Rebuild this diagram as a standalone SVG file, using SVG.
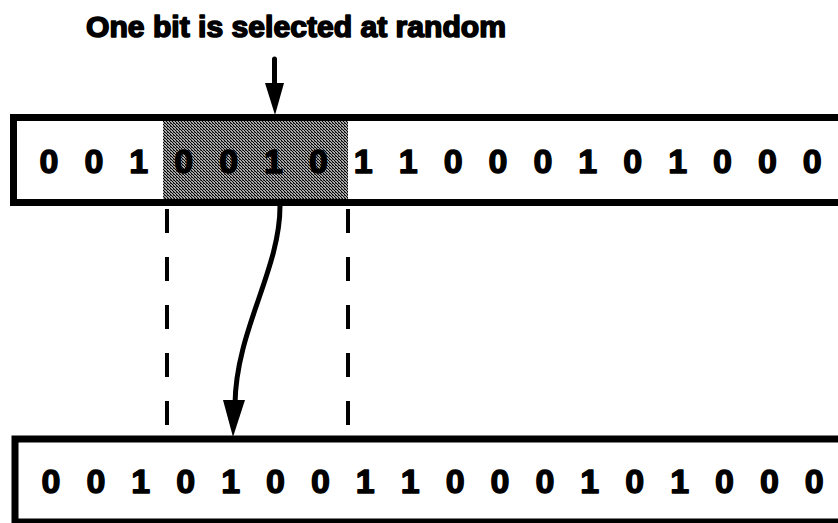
<svg xmlns="http://www.w3.org/2000/svg" width="838" height="523" viewBox="0 0 838 523">
  <defs>
    <!-- halftone screen used for the selected segment -->
    <pattern id="halftone" width="3" height="3" patternUnits="userSpaceOnUse">
      <rect width="3" height="3" fill="#a8a8a8"/>
      <rect x="0" y="0" width="1" height="1" fill="#000"/>
      <rect x="1" y="1" width="1" height="1" fill="#000"/>
      <rect x="2" y="2" width="1" height="1" fill="#000"/>
      <rect x="2" y="0" width="1" height="1" fill="#444"/>
    </pattern>
  </defs>
  <style>
    .title { font-family: "Liberation Sans", Arial, sans-serif; font-weight: bold; font-size: 30px; fill: #000; stroke: #000; stroke-width: 1.6; stroke-linejoin: round; }
    .bit { font-family: "Liberation Sans", Arial, sans-serif; font-weight: bold; font-size: 34px; fill: #000; stroke: #000; stroke-width: 1.4; stroke-linejoin: round; text-anchor: middle; }
    .box { fill: #fff; stroke: #000; stroke-width: 7; }
    .dash { stroke: #000; stroke-width: 4; stroke-dasharray: 24 24; fill: none; }
    .flow { stroke: #000; stroke-width: 5; fill: none; stroke-linecap: round; }
    .head { fill: #000; stroke: none; }
  </style>

  <rect width="838" height="523" fill="#fff"/>

  <text class="title" x="86" y="37" textLength="420" lengthAdjust="spacingAndGlyphs">One bit is selected at random</text>

  <!-- original chromosome -->
  <g id="parent">
    <rect class="box" x="13.5" y="117.5" width="900" height="85"/>
    <rect x="163" y="121" width="185" height="78" fill="url(#halftone)"/>
    <g class="bits">
      <text class="bit" x="49" y="173">0</text>
      <text class="bit" x="93.9" y="173">0</text>
      <text class="bit" x="138.8" y="173">1</text>
      <text class="bit" x="183.7" y="173">0</text>
      <text class="bit" x="228.6" y="173">0</text>
      <text class="bit" x="273.5" y="173">1</text>
      <text class="bit" x="318.4" y="173">0</text>
      <text class="bit" x="363.3" y="173">1</text>
      <text class="bit" x="408.2" y="173">1</text>
      <text class="bit" x="453.1" y="173">0</text>
      <text class="bit" x="498" y="173">0</text>
      <text class="bit" x="542.9" y="173">0</text>
      <text class="bit" x="587.8" y="173">1</text>
      <text class="bit" x="632.7" y="173">0</text>
      <text class="bit" x="677.6" y="173">1</text>
      <text class="bit" x="722.5" y="173">0</text>
      <text class="bit" x="767.4" y="173">0</text>
      <text class="bit" x="812.3" y="173">0</text>
    </g>
  </g>

  <!-- mutated chromosome -->
  <g id="child">
    <rect class="box" x="15" y="439" width="900" height="83"/>
    <g class="bits">
      <text class="bit" x="51" y="493">0</text>
      <text class="bit" x="95.9" y="493">0</text>
      <text class="bit" x="140.8" y="493">1</text>
      <text class="bit" x="185.7" y="493">0</text>
      <text class="bit" x="230.6" y="493">1</text>
      <text class="bit" x="275.5" y="493">0</text>
      <text class="bit" x="320.4" y="493">0</text>
      <text class="bit" x="365.3" y="493">1</text>
      <text class="bit" x="410.2" y="493">1</text>
      <text class="bit" x="455.1" y="493">0</text>
      <text class="bit" x="500" y="493">0</text>
      <text class="bit" x="544.9" y="493">0</text>
      <text class="bit" x="589.8" y="493">1</text>
      <text class="bit" x="634.7" y="493">0</text>
      <text class="bit" x="679.6" y="493">1</text>
      <text class="bit" x="724.5" y="493">0</text>
      <text class="bit" x="769.4" y="493">0</text>
      <text class="bit" x="814.3" y="493">0</text>
    </g>
  </g>

  <!-- connectors -->
  <g id="connectors">
    <line class="dash" x1="167" y1="209" x2="167" y2="426"/>
    <line class="dash" x1="348" y1="209" x2="348" y2="426"/>
    <line class="flow" x1="274.5" y1="59" x2="274.5" y2="90"/>
    <polygon class="head" points="265,83 284,83 275,115"/>
    <path class="flow" d="M 280 206 C 280 270, 236 330, 235 404"/>
    <polygon class="head" points="223,400 245,400 233,437"/>
  </g>
</svg>
